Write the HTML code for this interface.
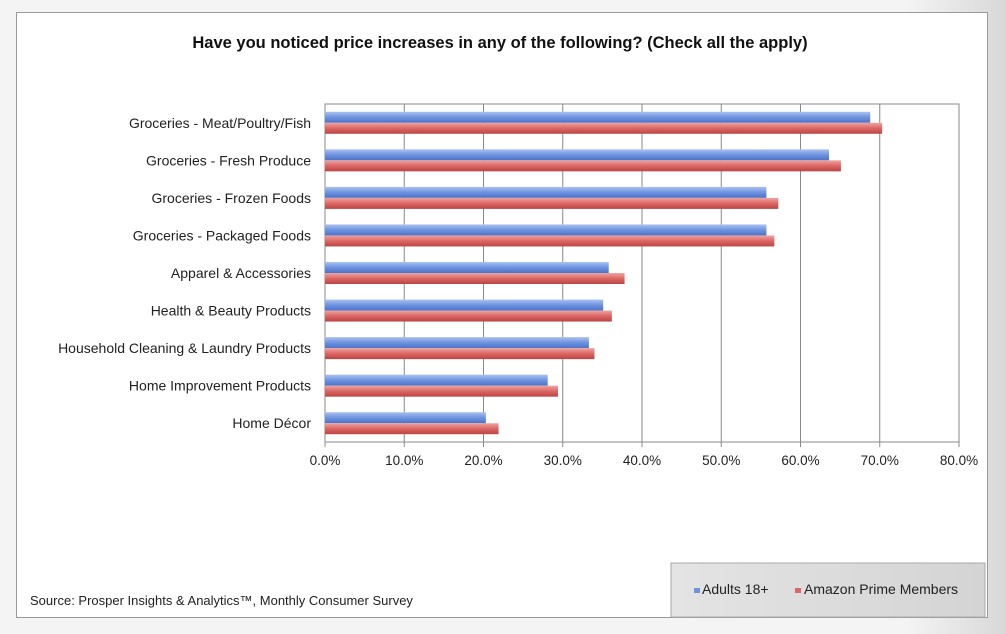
<!DOCTYPE html>
<html><head><meta charset="utf-8"><style>
html,body{margin:0;padding:0;width:1006px;height:634px;overflow:hidden;background:linear-gradient(90deg,#f4f4f4 0%,#f4f4f4 90%,#d8d8d8 100%);font-family:"Liberation Sans",Arial,sans-serif;}
#frame{position:absolute;left:16px;top:12px;width:972px;height:606px;background:#fff;border:1px solid #999;box-sizing:border-box;}
</style></head><body>
<div id="frame"></div>
<svg id="chart" width="1006" height="634" style="position:absolute;left:0;top:0">
<defs>
<linearGradient id="gb" x1="0" y1="0" x2="0" y2="1"><stop offset="0" stop-color="#a9c2f0"/><stop offset="0.5" stop-color="#6e93e0"/><stop offset="1" stop-color="#4a72c8"/></linearGradient>
<linearGradient id="gr" x1="0" y1="0" x2="0" y2="1"><stop offset="0" stop-color="#eea5a3"/><stop offset="0.5" stop-color="#dc6663"/><stop offset="1" stop-color="#b94644"/></linearGradient>
<linearGradient id="lg" x1="0" y1="0" x2="1" y2="0"><stop offset="0" stop-color="#e4e4e4"/><stop offset="1" stop-color="#d4d4d4"/></linearGradient>
</defs>
<text x="500" y="48" text-anchor="middle" font-size="16.5" font-weight="bold" fill="#111">Have you noticed price increases in any of the following? (Check all the apply)</text>
<g id="grid"></g><g id="bars"></g><g id="labels"></g><g id="ticks"></g>
<text x="30" y="605" font-size="13" fill="#222">Source: Prosper Insights &amp; Analytics™, Monthly Consumer Survey</text>
<g>
<rect x="671" y="563" width="314" height="54" fill="url(#lg)" stroke="#aaa"/>
<rect x="694" y="588" width="6" height="5" fill="#6e93e0"/>
<text x="702" y="594" font-size="14" fill="#222">Adults 18+</text>
<rect x="795" y="588" width="6" height="5" fill="#dc6663"/>
<text x="804" y="594" font-size="14" fill="#222">Amazon Prime Members</text>
</g>
</svg>
<script>
const categories=["Groceries - Meat/Poultry/Fish","Groceries - Fresh Produce","Groceries - Frozen Foods","Groceries - Packaged Foods","Apparel & Accessories","Health & Beauty Products","Household Cleaning & Laundry Products","Home Improvement Products","Home Décor"];
const adults=[68.8,63.6,55.7,55.7,35.8,35.1,33.3,28.1,20.3];
const prime=[70.3,65.1,57.2,56.7,37.8,36.2,34.0,29.4,21.9];
const tickValues=[0,10,20,30,40,50,60,70,80];
const tickLabels=["0.0%","10.0%","20.0%","30.0%","40.0%","50.0%","60.0%","70.0%","80.0%"];
const NS="http://www.w3.org/2000/svg";
const X0=325,X1=959,Y0=104,Y1=442,XMAX=80;
const x=v=>X0+(v/XMAX)*(X1-X0);
const band=(Y1-Y0)/categories.length;
const y=i=>Y0+i*band;
function mk(tag,attrs,parent){const e=document.createElementNS(NS,tag);for(const k in attrs)e.setAttribute(k,attrs[k]);document.getElementById(parent).appendChild(e);return e;}
const pa=mk('rect',{x:X0,y:Y0,width:X1-X0,height:Y1-Y0,fill:'none',stroke:'#888'},'grid');


tickValues.forEach((t,i)=>{
  const l=mk('line',{x1:x(t),x2:x(t),y1:Y0,y2:Y1+5,stroke:'#888'},'grid');
  
  
  const tx=mk('text',{x:x(t),y:465,'text-anchor':'middle','font-size':13.5,fill:'#222'},'ticks');
  tx.textContent=tickLabels[i];
  
  
});
categories.forEach((c,i)=>{
  const bh=11,top=y(i)+(band-2*bh)/2;
  const b=mk('rect',{x:X0,y:top,width:x(adults[i])-X0,height:bh,fill:'url(#gb)'},'bars');
  
  
  const r=mk('rect',{x:X0,y:top+bh,width:x(prime[i])-X0,height:bh,fill:'url(#gr)'},'bars');
  
  
  const t=mk('text',{x:311,y:y(i)+band/2+5,'text-anchor':'end','font-size':14,fill:'#222'},'labels');
  t.textContent=c;
  
  
});
</script>
</body></html>
